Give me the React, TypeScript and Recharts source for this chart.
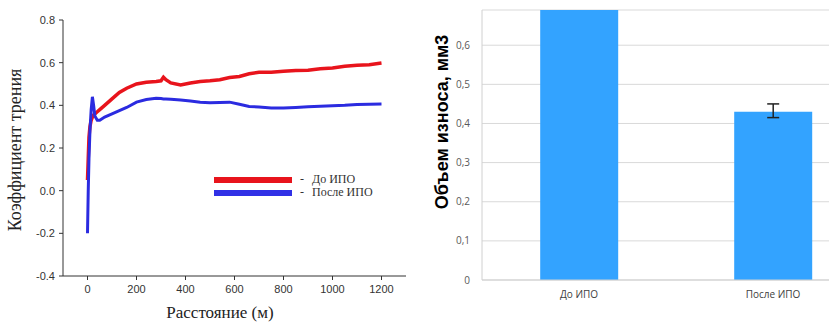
import { LineChart, Line, XAxis, YAxis, Legend, Label, BarChart, Bar, CartesianGrid, ErrorBar } from 'recharts'

// friction curve
const distance = [0, 3, 6, 10, 15, 20, 25, 30, 40, 50, 70, 100, 130, 160, 200, 240, 280, 300, 310, 320, 340, 380, 420, 460, 500, 540, 580, 620, 660, 700, 750, 800, 850, 900, 950, 1000, 1050, 1100, 1150, 1200]
const beforeIpo = [0.05, 0.15, 0.25, 0.3, 0.33, 0.345, 0.355, 0.36, 0.37, 0.38, 0.4, 0.43, 0.46, 0.48, 0.5, 0.508, 0.512, 0.515, 0.532, 0.52, 0.505, 0.495, 0.505, 0.512, 0.515, 0.52, 0.53, 0.535, 0.548, 0.555, 0.555, 0.56, 0.563, 0.565, 0.572, 0.575, 0.583, 0.588, 0.59, 0.598]
const afterIpo = [-0.2, 0.0, 0.15, 0.28, 0.38, 0.44, 0.4, 0.35, 0.33, 0.33, 0.345, 0.36, 0.375, 0.39, 0.415, 0.427, 0.433, 0.432, 0.43, 0.43, 0.428, 0.425, 0.42, 0.415, 0.412, 0.413, 0.415, 0.405, 0.395, 0.392, 0.388, 0.387, 0.39, 0.393, 0.396, 0.398, 0.4, 0.404, 0.405, 0.406]

const xTicks = [0, 100, 200, 300, 400, 500, 600, 700, 800, 900, 1000, 1100, 1200]
const yTicks = [-0.4, -0.3, -0.2, -0.1, 0, 0.1, 0.2, 0.3, 0.4, 0.5, 0.6, 0.7, 0.8]

// wear volume bars
const groups = ['До ИПО', 'После ИПО']
const wear = [0.9, 0.43]
const wearErr = [[0.02, 0.02], [0.015, 0.02]]
const wearTicks = [0, 0.1, 0.2, 0.3, 0.4, 0.5, 0.6]

const frictionData = distance.map((d, i) => ({ d, before: beforeIpo[i], after: afterIpo[i] }))
const wearData = groups.map((g, i) => ({ name: g, v: wear[i], err: wearErr[i] }))

const serif = '"Liberation Serif", "Times New Roman", serif'
const sans = '"Liberation Sans", Arial, sans-serif'
const axisColor = '#333'

function XTick({ x, y, payload }: any) {
  const major = payload.value % 200 === 0
  return (
    <g>
      <line x1={x} x2={x} y1={y} y2={y + (major ? 4 : 2.5)} stroke={axisColor} />
      {major && (
        <text x={x} y={y + 17} textAnchor="middle" fontSize={11} fontFamily={sans} fill="#333">{payload.value}</text>
      )}
    </g>
  )
}

function YTick({ x, y, payload }: any) {
  const major = Math.round(payload.value * 10) % 2 === 0
  return (
    <g>
      <line x1={x - (major ? 4 : 2.5)} x2={x} y1={y} y2={y} stroke={axisColor} />
      {major && (
        <text x={x - 8} y={y + 4} textAnchor="end" fontSize={11} fontFamily={sans} fill="#333">{payload.value.toFixed(1)}</text>
      )}
    </g>
  )
}

function FrictionLegend() {
  const row = (color: string, text: string) => (
    <div style={{ display: 'flex', alignItems: 'center', height: 13 }}>
      <div style={{ width: 78, height: 6, background: color }} />
      <span style={{ marginLeft: 8, fontFamily: serif, fontSize: 12, color: '#333' }}>-</span>
      <span style={{ marginLeft: 8, fontFamily: serif, fontSize: 12, color: '#333' }}>{text}</span>
    </div>
  )
  return (
    <div>
      {row('#e8141c', 'До ИПО')}
      {row('#3131e6', 'После ИПО')}
    </div>
  )
}

export default function App() {
  return (
    <div style={{ position: 'absolute', left: 0, top: 0, width: 829, height: 322, overflow: 'hidden', background: '#fff' }}>
      <div style={{ position: 'absolute', left: 0, top: 0 }}>
        <LineChart width={420} height={322} data={frictionData} margin={{ top: 20, right: 14, bottom: 0, left: 0 }}>
          <XAxis
            dataKey="d"
            type="number"
            domain={[-100, 1300]}
            ticks={xTicks}
            height={46}
            tickSize={0}
            tickMargin={0}
            tickLine={false}
            stroke={axisColor}
            tick={<XTick />}
          >
            <Label content={() => <text x={220} y={318} textAnchor="middle" fontSize={17} fontFamily={serif} fill="#222">Расстояние (м)</text>} />
          </XAxis>
          <YAxis
            type="number"
            domain={[-0.4, 0.8]}
            ticks={yTicks}
            width={63}
            tickSize={0}
            tickMargin={0}
            tickLine={false}
            stroke={axisColor}
            tick={<YTick />}
          >
            <Label content={() => <text x={21} y={150} transform="rotate(-90 21 150)" textAnchor="middle" fontSize={18} fontFamily={serif} fill="#222">Коэффициент трения</text>} />
          </YAxis>
          <Legend
            layout="horizontal"
            verticalAlign="middle"
            align="center"
            wrapperStyle={{ left: 214, top: 173, width: 'auto' }}
            content={() => <FrictionLegend />}
          />
          <Line type="linear" dataKey="before" stroke="#e8141c" strokeWidth={3.5} dot={false} isAnimationActive={false} />
          <Line type="linear" dataKey="after" stroke="#2b2be0" strokeWidth={3} dot={false} isAnimationActive={false} />
        </LineChart>
      </div>
      <div style={{ position: 'absolute', left: 420, top: 0 }}>
        <BarChart width={450} height={322} data={wearData} margin={{ top: 10, right: 0, bottom: 0, left: 0 }} barCategoryGap="30%">
          <CartesianGrid vertical={false} stroke="#d9d9d9" />
          <XAxis
            dataKey="name"
            height={42}
            stroke="#d0d0d0"
            tickLine={false}
            tickSize={0}
            tickMargin={11}
            tick={{ fontSize: 10, fill: '#404040', fontFamily: '"Open Sans", sans-serif' }}
          />
          <YAxis
            type="number"
            domain={[0, 0.69]}
            ticks={wearTicks}
            allowDataOverflow
            width={62}
            stroke="#d0d0d0"
            tickLine={false}
            tickSize={0}
            tickMargin={12}
            tickFormatter={(v: number) => (v === 0 ? '0' : v.toFixed(1).replace('.', ','))}
            tick={{ fontSize: 10, fill: '#595959', fontFamily: '"Open Sans", sans-serif' }}
          >
            <Label content={() => <text x={28} y={122} transform="rotate(-90 28 122)" textAnchor="middle" fontSize={18} fontWeight="bold" fontFamily={sans} fill="#000">Объем износа, мм3</text>} />
          </YAxis>
          <Bar dataKey="v" fill="#33a3ff" isAnimationActive={false}>
            <ErrorBar dataKey="err" width={6} stroke="#222" strokeWidth={1.5} direction="y" />
          </Bar>
        </BarChart>
      </div>
    </div>
  )
}
